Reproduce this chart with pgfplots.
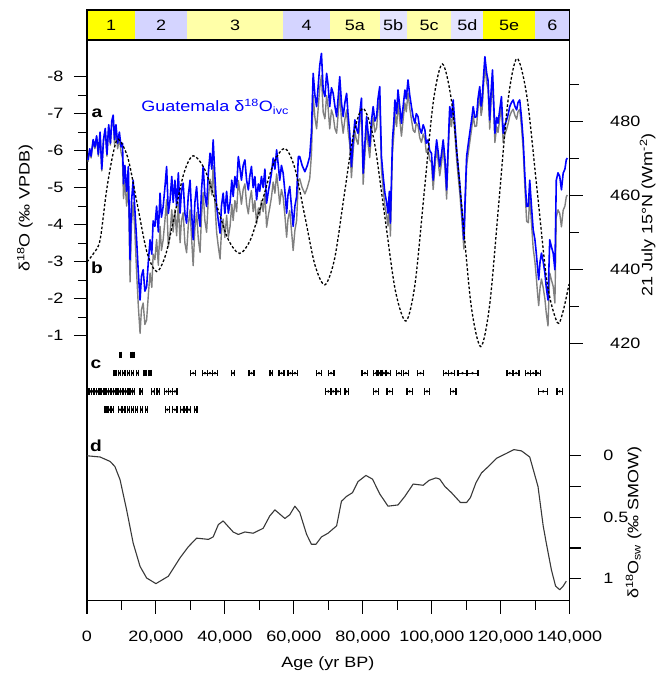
\documentclass[border=0pt]{standalone}
\usepackage{fontspec}
\setmainfont{Liberation Sans}[FakeStretch=1.2]
\usepackage{pgfplots}
\pgfplotsset{compat=1.18}
\usepackage{pgfplotstable}

\definecolor{misY}{HTML}{FFFF00}
\definecolor{misLY}{HTML}{FFFFA8}
\definecolor{misB}{HTML}{D4D4FF}
\definecolor{misLB}{HTML}{E4E4FF}
\definecolor{ivcblue}{HTML}{0000FF}
\definecolor{rawgrey}{HTML}{808080}
\definecolor{swgrey}{HTML}{383838}

% Guatemala speleothem d18O: ice-volume corrected (ivc) and raw, age in kyr
\pgfplotstableread{
age ivc raw
0.3 -5.75 -5.70
0.8 -6.05 -6.00
1.2 -5.85 -5.80
1.8 -6.30 -6.25
2.3 -6.10 -6.05
2.8 -6.40 -6.35
3.3 -5.90 -5.85
3.8 -6.50 -6.45
4.3 -5.50 -5.45
4.8 -6.30 -6.25
5.3 -6.60 -6.55
5.8 -5.90 -5.85
6.3 -6.70 -6.65
6.8 -6.20 -6.15
7.2 -6.80 -6.75
7.6 -6.96 -6.91
8.0 -6.30 -6.15
8.4 -6.70 -6.55
8.9 -6.20 -6.05
9.4 -6.50 -6.35
9.9 -6.10 -5.95
10.3 -6.20 -5.80
10.6 -5.10 -4.70
11.0 -5.60 -5.20
11.5 -4.90 -4.50
12.0 -5.57 -5.17
12.5 -3.05 -2.45
12.9 -4.60 -4.00
13.4 -5.20 -4.60
13.9 -4.40 -3.80
14.4 -3.60 -2.70
14.9 -2.69 -1.79
15.4 -1.96 -1.06
15.8 -2.60 -1.70
16.3 -2.78 -1.88
16.8 -2.20 -1.30
17.3 -2.32 -1.42
17.8 -3.00 -2.10
18.3 -3.59 -2.69
18.8 -3.20 -2.30
19.2 -4.10 -3.20
19.7 -3.95 -3.05
20.2 -4.50 -3.60
20.7 -3.80 -2.90
21.2 -4.85 -3.95
21.6 -4.20 -3.30
22.1 -4.49 -3.59
22.6 -5.00 -4.10
23.1 -5.57 -4.67
23.6 -4.30 -3.40
24.1 -4.67 -3.77
24.6 -5.30 -4.40
25.0 -4.60 -3.80
25.5 -5.20 -4.40
26.0 -4.50 -3.70
26.5 -5.40 -4.60
27.0 -4.31 -3.51
27.4 -4.90 -4.10
27.9 -5.12 -4.32
28.4 -4.30 -3.50
28.9 -4.04 -3.24
29.4 -4.80 -4.00
29.9 -5.20 -4.40
30.3 -4.40 -3.70
30.8 -3.59 -2.89
31.3 -4.60 -3.90
31.8 -5.03 -4.33
32.3 -4.30 -3.60
32.8 -3.95 -3.25
33.2 -4.90 -4.20
33.7 -5.57 -4.87
34.2 -4.80 -4.10
34.7 -4.49 -3.79
35.2 -5.40 -4.70
35.7 -5.93 -5.23
36.2 -5.50 -4.80
36.6 -6.29 -5.59
37.1 -5.30 -4.60
37.6 -4.49 -3.79
38.1 -4.10 -3.40
38.6 -3.77 -3.07
39.0 -4.50 -3.80
39.5 -4.85 -4.15
40.0 -4.30 -3.65
40.5 -4.90 -4.25
41.0 -4.31 -3.66
41.5 -4.60 -3.95
42.0 -5.20 -4.55
42.4 -4.76 -4.11
42.9 -5.30 -4.65
43.4 -5.00 -4.35
43.9 -5.84 -5.19
44.4 -5.50 -4.85
44.8 -5.20 -4.55
45.3 -5.60 -4.95
45.8 -5.75 -5.10
46.3 -5.20 -4.55
46.8 -4.94 -4.29
47.2 -5.30 -4.65
47.7 -5.57 -4.92
48.2 -5.00 -4.35
48.7 -5.30 -4.65
49.2 -4.67 -4.02
49.7 -5.10 -4.45
50.1 -4.90 -4.25
50.6 -5.30 -4.65
51.1 -5.00 -4.35
51.6 -5.50 -4.85
52.1 -4.58 -3.93
52.6 -4.90 -4.25
53.0 -5.10 -4.45
53.5 -5.39 -4.74
54.0 -5.80 -5.15
54.5 -5.50 -4.85
55.0 -6.02 -5.37
55.5 -5.60 -4.95
55.9 -5.20 -4.55
56.4 -5.60 -4.95
56.9 -5.39 -4.74
57.4 -4.90 -4.25
57.9 -4.31 -3.66
58.3 -4.80 -4.15
58.8 -5.03 -4.38
59.3 -4.50 -3.85
59.8 -3.95 -3.30
60.3 -4.50 -3.85
60.8 -4.76 -4.11
61.3 -5.84 -5.19
61.7 -5.84 -5.24
62.4 -5.60 -5.00
63.2 -5.43 -4.83
63.9 -5.60 -5.00
64.6 -5.84 -5.24
65.1 -6.50 -5.90
65.6 -8.09 -7.49
66.1 -7.50 -6.90
66.6 -7.19 -6.59
67.1 -7.80 -7.20
67.5 -8.30 -7.70
68.0 -8.63 -8.03
68.5 -7.64 -7.04
69.0 -7.46 -6.86
69.5 -8.09 -7.49
69.9 -7.80 -7.20
70.4 -7.19 -6.59
70.9 -7.70 -7.10
71.4 -7.55 -6.95
71.9 -7.20 -6.60
72.4 -6.92 -6.47
72.9 -7.50 -7.05
73.3 -8.00 -7.55
73.8 -7.30 -6.85
74.3 -6.92 -6.47
74.8 -7.30 -6.85
75.3 -7.55 -7.10
75.7 -7.00 -6.55
76.2 -6.47 -6.17
76.7 -5.57 -5.27
77.2 -6.30 -6.00
77.7 -6.83 -6.53
78.1 -6.60 -6.30
78.6 -6.47 -6.17
79.1 -7.00 -6.70
79.6 -7.42 -7.12
80.1 -5.39 -5.09
80.6 -6.20 -5.90
81.1 -6.92 -6.62
81.5 -6.50 -6.20
82.0 -6.11 -5.81
82.5 -6.80 -6.50
83.0 -7.19 -6.89
83.5 -6.80 -6.50
84.0 -6.92 -6.62
84.4 -7.40 -7.10
84.9 -7.73 -7.43
85.4 -5.84 -5.49
85.9 -5.30 -4.95
86.4 -4.85 -4.50
86.9 -4.60 -4.25
87.3 -4.31 -3.96
87.7 -4.90 -4.55
88.0 -4.04 -3.69
88.3 -5.20 -4.85
88.6 -6.29 -5.94
89.0 -6.80 -6.45
89.3 -7.37 -7.02
89.8 -7.00 -6.65
90.2 -7.64 -7.29
90.7 -7.20 -6.85
91.2 -6.74 -6.39
91.7 -7.20 -6.85
92.2 -7.64 -7.29
92.6 -7.40 -7.05
93.1 -7.91 -7.56
93.6 -7.50 -7.15
94.1 -7.19 -6.84
94.6 -6.90 -6.55
95.1 -6.74 -6.49
95.5 -7.00 -6.75
96.0 -6.92 -6.67
96.5 -6.60 -6.35
97.0 -6.47 -6.22
97.5 -6.70 -6.45
98.0 -6.56 -6.31
98.4 -6.20 -5.95
98.9 -6.29 -6.04
99.4 -6.00 -5.75
99.9 -5.93 -5.68
100.4 -5.20 -4.95
100.9 -5.80 -5.55
101.4 -6.29 -6.04
101.8 -6.00 -5.75
102.3 -5.57 -5.32
102.8 -5.90 -5.65
103.3 -6.29 -6.04
103.8 -5.80 -5.55
104.3 -4.94 -4.69
104.7 -6.00 -5.75
105.2 -7.19 -6.94
105.7 -6.90 -6.65
106.2 -7.37 -7.12
106.7 -6.70 -6.45
107.2 -6.02 -5.77
107.6 -5.60 -5.35
108.1 -5.12 -4.87
108.7 -4.40 -4.15
109.3 -3.59 -3.34
109.7 -4.80 -4.55
110.1 -5.84 -5.59
110.6 -6.20 -5.95
111.0 -6.47 -6.22
111.5 -6.80 -6.55
112.0 -7.19 -6.94
112.5 -6.90 -6.65
113.0 -6.92 -6.67
113.4 -7.40 -7.15
113.9 -7.73 -7.48
114.3 -7.20 -6.95
114.6 -7.37 -7.12
115.0 -8.00 -7.75
115.4 -8.54 -8.29
115.9 -8.10 -7.85
116.3 -7.91 -7.66
116.8 -6.83 -6.58
117.2 -7.60 -7.35
117.6 -8.18 -7.93
118.0 -7.20 -6.95
118.3 -6.47 -6.22
118.8 -6.90 -6.65
119.2 -6.74 -6.49
119.7 -7.10 -6.85
120.2 -7.46 -7.21
120.7 -6.47 -6.22
121.2 -6.70 -6.45
121.7 -6.83 -6.58
122.2 -7.00 -6.75
122.6 -7.19 -6.94
123.1 -7.30 -7.05
123.6 -7.37 -7.12
124.1 -7.20 -6.95
124.6 -7.10 -6.85
125.0 -7.30 -7.05
125.5 -7.37 -7.12
126.0 -6.90 -6.65
126.5 -6.29 -6.04
127.0 -5.30 -5.00
127.5 -4.49 -4.09
128.0 -4.50 -4.05
128.4 -5.20 -4.75
128.9 -4.50 -4.05
129.4 -3.86 -3.36
129.9 -3.60 -3.00
130.3 -3.23 -2.58
130.7 -2.80 -2.10
131.0 -2.51 -1.81
131.4 -3.00 -2.30
131.8 -3.23 -2.53
132.3 -3.00 -2.30
132.8 -2.69 -1.99
133.2 -2.30 -1.60
133.7 -1.96 -1.26
134.2 -3.59 -2.69
134.7 -3.40 -2.50
135.2 -3.23 -2.33
135.7 -2.78 -1.88
136.1 -5.20 -4.20
136.6 -5.40 -4.40
137.1 -5.30 -4.30
137.6 -4.94 -3.94
138.1 -5.39 -4.39
138.6 -5.50 -4.50
139.0 -5.75 -4.75
139.3 -5.80 -4.80
}\speleo

% 21 July insolation at 15N (W m-2)
\pgfplotstableread{
age ins
0 442.1
2 444.5
3.8 448.0
5.7 461.5
7.6 471.5
9.1 475.3
11.9 470.1
14.65 457.4
17.4 444.7
20.2 439.5
22.85 444.1
25.5 455.2
28.15 466.2
30.8 470.8
34.2 467.0
37.55 457.6
40.9 448.3
44.3 444.4
47.6 448.5
50.85 458.6
54.1 468.7
57.4 472.8
60.3 467.4
63.2 454.4
66.1 441.3
69.0 435.9
71.8 442.9
74.55 459.8
77.3 476.6
80.1 483.6
83.2 475.2
86.3 454.9
89.4 434.5
92.5 426.1
95.15 436.2
97.8 460.9
100.45 485.5
103.1 495.6
105.9 484.4
108.65 457.4
111.4 430.4
114.2 419.2
116.8 430.6
119.45 458.2
122.1 485.7
124.7 497.1
127.6 486.7
130.55 461.4
133.5 436.1
136.4 425.7
138.0 428.5
139.8 436.1
}\insol

% seawater d18O (permil SMOW)
\pgfplotstableread{
age sw
0 0.0
3.8 0.01
6.7 0.046
8.1 0.087
9.6 0.195
11.5 0.44
13.4 0.71
15.4 0.90
17.3 0.994
20.0 1.04
23.6 0.98
27.0 0.83
29.4 0.74
31.8 0.67
35.2 0.68
36.6 0.66
38.1 0.56
39.5 0.53
42.4 0.62
43.9 0.64
45.8 0.62
48.2 0.63
51.1 0.59
53.0 0.49
54.5 0.44
57.4 0.51
58.8 0.48
60.3 0.41
61.7 0.46
63.7 0.64
65.1 0.72
66.4 0.72
68.0 0.66
69.9 0.63
72.4 0.57
73.8 0.37
75.3 0.33
77.0 0.30
78.6 0.21
80.9 0.16
82.8 0.19
84.9 0.31
87.3 0.41
90.2 0.40
92.2 0.33
94.6 0.23
97.5 0.24
99.2 0.20
101.2 0.18
102.3 0.19
103.8 0.25
105.7 0.30
108.3 0.38
110.1 0.38
111.2 0.34
112.8 0.22
114.4 0.14
116.3 0.09
118.8 0.02
121.7 -0.02
123.8 -0.05
126.0 -0.04
128.4 0.01
130.8 0.25
132.3 0.57
133.2 0.71
134.7 0.93
135.9 1.06
137.1 1.09
138.1 1.06
139.0 1.02
}\seawater

% U-Th dates: age, row, 2 sigma
\pgfplotstableread{
age row err
9.8 1 0.25
12.8 1 0.25
13.6 1 0.25
8.1 2 0.3
9.4 2 0.3
10.7 2 0.3
12.0 2 0.3
13.2 2 0.3
14.6 2 0.3
16.8 2 0.3
18.3 2 0.3
30.8 2 0.7
34.2 2 0.7
35.7 2 0.7
37.1 2 0.7
42.4 2 0.4
47.7 2 0.7
53.5 2 0.4
56.4 2 0.7
59.0 2 0.7
60.3 2 0.7
67.3 2 0.8
70.8 2 0.8
80.6 2 0.8
83.8 2 0.8
84.9 2 0.8
86.1 2 0.8
87.3 2 0.8
90.5 2 0.8
92.5 2 0.8
96.7 2 0.8
104.1 2 0.8
105.7 2 0.8
108.9 2 1.3
111.8 2 1.6
122.6 2 0.8
124.5 2 0.8
127.9 2 0.8
129.4 2 0.8
130.8 2 0.8
0.3 3 0.3
1.0 3 0.3
1.7 3 0.3
2.4 3 0.3
3.1 3 0.3
3.8 3 0.3
4.5 3 0.3
5.2 3 0.3
5.9 3 0.3
6.6 3 0.3
7.3 3 0.3
8.0 3 0.3
8.7 3 0.3
9.4 3 0.3
10.1 3 0.3
10.8 3 0.3
11.5 3 0.3
12.2 3 0.3
12.9 3 0.3
13.5 3 0.3
15.8 3 0.4
19.2 3 0.4
20.7 3 0.4
23.1 3 0.6
24.2 3 0.6
25.5 3 0.6
70.0 3 0.8
71.4 3 0.8
72.8 3 0.8
75.3 3 0.5
83.8 3 0.8
87.8 3 0.8
93.6 3 0.8
98.6 3 0.8
106.2 3 0.8
132.3 3 1.3
137.1 3 0.8
5.5 4 0.3
6.5 4 0.3
7.4 4 0.3
9.6 4 0.4
10.7 4 0.3
12.0 4 0.3
13.2 4 0.3
14.4 4 0.3
15.8 4 0.3
17.3 4 0.3
23.3 4 0.6
25.5 4 0.6
27.6 4 0.4
28.6 4 0.4
29.6 4 0.4
31.5 4 0.4
}\dates

\pgfplotsset{
  base/.style={
    width=483pt, height=561pt, scale only axis,
    at={(0,0)}, anchor=south west,
    xmin=0, xmax=140,
    tick align=outside,
    major tick length=13pt, minor tick length=9pt,
    axis line style={line width=1.1pt},
    tick style={line width=1.1pt, black},
    ticklabel style={font=\fontsize{15}{18}\selectfont},
  },
}

\begin{document}
\begin{tikzpicture}
\path (-87pt,-73pt) rectangle (581pt,601pt);

% MIS stage band
\begin{axis}[at={(0,561pt)}, anchor=south west, width=483pt, height=30pt,
  scale only axis, xmin=0, xmax=140, ymin=0, ymax=1,
  xtick=\empty, ytick=\empty, axis on top,
  axis line style={line width=1.3pt}]
\addplot[draw=none, fill=misY] coordinates {(0,1) (14.0,1)} \closedcycle;
\addplot[draw=none, fill=misB] coordinates {(14.0,1) (29.1,1)} \closedcycle;
\addplot[draw=none, fill=misLY] coordinates {(29.1,1) (56.9,1)} \closedcycle;
\addplot[draw=none, fill=misB] coordinates {(56.9,1) (70.6,1)} \closedcycle;
\addplot[draw=none, fill=misLY] coordinates {(70.6,1) (84.9,1)} \closedcycle;
\addplot[draw=none, fill=misLB] coordinates {(84.9,1) (92.8,1)} \closedcycle;
\addplot[draw=none, fill=misLY] coordinates {(92.8,1) (105.7,1)} \closedcycle;
\addplot[draw=none, fill=misLB] coordinates {(105.7,1) (114.9,1)} \closedcycle;
\addplot[draw=none, fill=misY] coordinates {(114.9,1) (129.9,1)} \closedcycle;
\addplot[draw=none, fill=misB] coordinates {(129.9,1) (140,1)} \closedcycle;
\begin{scope}[every node/.style={font=\fontsize{15}{18}\selectfont}]
\node at (axis cs:7.0,0.5) {1};
\node at (axis cs:21.5,0.5) {2};
\node at (axis cs:43.0,0.5) {3};
\node at (axis cs:63.7,0.5) {4};
\node at (axis cs:77.7,0.5) {5a};
\node at (axis cs:88.8,0.5) {5b};
\node at (axis cs:99.2,0.5) {5c};
\node at (axis cs:110.3,0.5) {5d};
\node at (axis cs:122.4,0.5) {5e};
\node at (axis cs:135.0,0.5) {6};
\end{scope}
\end{axis}

% panel a/b: speleothem d18O
\begin{axis}[base,
  y dir=reverse, ymin=-8.992, ymax=6.17,
  xtick={0,20,...,140}, minor xtick={10,30,...,130},
  xticklabels={0,{20,000},{40,000},{60,000},{80,000},{100,000},{120,000},{140,000}},
  ytick={-8,-7,...,-1}, minor ytick={-7.5,-6.5,...,-1.5},
  yticklabels={-8,-7,-6,-5,-4,-3,-2,-1},
  xticklabel style={yshift=-14pt},
  yticklabel style={xshift=-7pt},
  xtick pos=left, ytick pos=left]
\addplot[rawgrey, line width=1.4pt, line join=round] table[x=age, y=raw] {\speleo};
\addplot[ivcblue, line width=1.6pt, line join=round] table[x=age, y=ivc] {\speleo};
\end{axis}

% insolation
\begin{axis}[base, axis x line=none, axis y line*=right,
  ymin=350.5, ymax=502.1,
  ytick={420,440,460,480}, minor ytick={430,450,470,490},
  yticklabels={420,440,460,480},
  yticklabel style={xshift=24pt}]
\addplot[black, line width=1.3pt, dash pattern=on 2.6pt off 2pt, smooth] table[x=age, y=ins] {\insol};
\end{axis}

% panel d: seawater d18O
\begin{axis}[base, axis x line=none, axis y line*=right,
  y dir=reverse, ymin=-3.382, ymax=1.179,
  major tick length=11pt,
  ytick={0,0.25,0.5,0.75,1},
  yticklabels={0,{},0.5,{},1},
  yticklabel style={xshift=19pt}]
\addplot[swgrey, line width=1.1pt, line join=round] table[x=age, y=sw] {\seawater};
\end{axis}

% panel c: U-Th dates
\begin{axis}[base, axis lines=none, y dir=reverse, ymin=-16.21, ymax=14.44, clip=false]
\addplot[black, only marks, mark=*, mark size=1pt,
  error bars/.cd, x dir=both, x explicit, error mark=|,
  error bar style={line width=1.2pt},
  error mark options={mark size=3.3pt, line width=1.3pt}]
  table[x=age, y=row, x error=err] {\dates};
\end{axis}

\begin{scope}[every node/.style={font=\fontsize{15}{18}\selectfont}]
\node[font=\fontsize{16}{19}\selectfont\bfseries] at (10pt,488pt) {a};
\node[font=\fontsize{16}{19}\selectfont\bfseries] at (10pt,333pt) {b};
\node[font=\fontsize{16}{19}\selectfont\bfseries] at (9pt,237pt) {c};
\node[font=\fontsize{16}{19}\selectfont\bfseries] at (9pt,155pt) {d};
\node[anchor=west, text=ivcblue] at (51pt,494pt) {Guatemala δ\textsuperscript{18}O\textsubscript{ivc}};
\node[rotate=90] at (-62pt,393pt) {δ\textsuperscript{18}O (‰ VPDB)};
\node[rotate=90] at (561pt,386pt) {21 July 15°N (Wm\textsuperscript{-2})};
\node[rotate=90] at (547pt,78pt) {δ\textsuperscript{18}O\textsubscript{sw} (‰ SMOW)};
\node at (241pt,-63pt) {Age (yr BP)};
\end{scope}
\end{tikzpicture}
\end{document}
